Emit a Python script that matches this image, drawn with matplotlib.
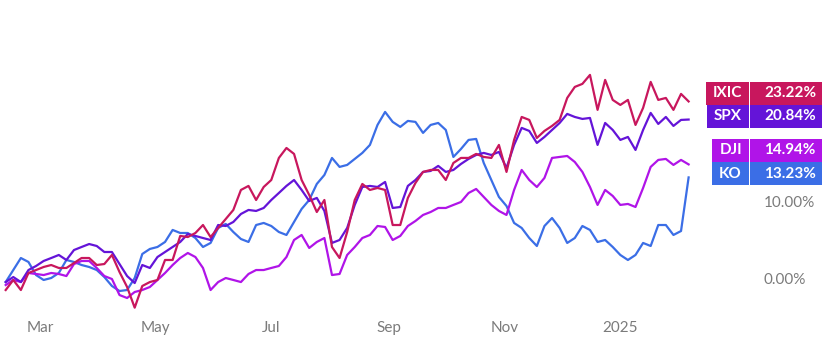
import pandas as pd
import matplotlib
matplotlib.use("Agg")
import matplotlib.pyplot as plt
from matplotlib.patches import Rectangle
from matplotlib import transforms

plt.rcParams['font.family'] = ['Lato', 'DejaVu Sans']

# sampled every 4 days, Feb 2024 -> Feb 2025, % change
dates = pd.date_range("2024-02-12", periods=91, freq="4D")

ixic = [-1.58, -0.26, -1.58, 0.66, 1.05, 1.45, 1.71, 1.32, 1.32, 1.97,
        2.63, 2.63, 1.71, 1.84, 3.03, 0.79, -1.18, -3.9, -1.05, -0.53,
        -0.26, 2.37, 2.37, 5.53, 5.39, 5.92, 6.97, 5.39, 6.58, 7.76,
        8.95, 11.58, 12.11, 10.26, 11.97, 12.89, 15.79, 17.1, 16.32, 12.89,
        10.92, 8.68, 10.26, 4.08, 2.63, 6.05, 10.26, 12.37, 11.58, 11.84,
        11.58, 6.97, 6.97, 10.53, 12.50, 13.95, 14.21, 14.21, 12.89, 15.13,
        15.79, 15.79, 16.32, 15.92, 15.79, 17.50, 13.95, 18.16, 21.18, 20.79,
        18.42, 19.34, 20.0, 20.79, 23.68, 25.13, 25.53, 26.71, 22.11, 26.05,
        23.42, 22.76, 23.42, 20.13, 22.37, 25.79, 23.42, 23.68, 22.11, 24.21, 23.22]

spx = [-0.53, 0.13, -0.53, 1.05, 1.58, 2.24, 2.63, 3.03, 2.37, 3.68,
       4.08, 4.47, 4.21, 3.42, 3.42, 1.84, 0.26, -0.66, 1.71, 1.32,
       2.76, 3.42, 4.08, 4.74, 5.79, 5.53, 5.26, 5.0, 6.97, 6.84,
       7.37, 8.42, 8.95, 8.82, 9.21, 10.26, 11.18, 12.11, 12.89, 11.58,
       10.13, 10.53, 8.82, 4.61, 5.0, 6.58, 9.61, 11.97, 12.11, 11.97,
       12.63, 9.21, 9.34, 12.11, 12.89, 13.95, 14.08, 14.74, 13.95, 14.21,
       15.0, 15.66, 16.18, 16.45, 16.18, 16.58, 14.47, 17.50, 19.74, 19.34,
       17.76, 18.55, 19.47, 20.39, 21.58, 21.18, 20.92, 21.05, 17.50, 20.39,
       19.47, 18.16, 18.55, 16.84, 19.47, 21.71, 20.26, 21.18, 20.0, 20.79, 20.84]

dji = [-0.92, -0.26, -0.53, 0.66, 0.53, 0.39, 0.66, 0.53, 0.26, 1.84,
       2.24, 2.24, 1.32, 0.26, -0.13, -2.24, -2.63, -1.84, -1.58, -1.18,
       -0.26, 0.66, 1.71, 2.63, 3.29, 2.76, 1.32, -1.58, -0.53, 0.0,
       -0.26, -0.53, 0.53, 1.05, 1.05, 1.32, 1.58, 2.76, 5.0, 5.66,
       3.95, 4.74, 5.26, 0.39, 0.53, 3.03, 4.08, 5.26, 5.66, 6.84,
       6.71, 5.0, 5.53, 6.84, 7.50, 8.29, 8.68, 9.21, 9.21, 9.61,
       10.0, 11.18, 11.71, 10.66, 9.61, 8.82, 8.29, 11.58, 14.21, 12.89,
       11.97, 13.16, 15.79, 15.92, 16.05, 15.26, 13.95, 11.97, 9.61, 11.58,
       10.79, 9.61, 9.74, 9.34, 11.84, 14.61, 15.53, 15.66, 14.87, 15.53, 14.94]

ko = [-0.53, 1.05, 2.63, 2.11, 0.39, -0.26, 0.0, 0.66, 2.37, 2.11,
      1.71, 1.45, 1.05, 0.13, -1.05, -1.71, -1.58, 0.0, 3.16, 3.82,
      4.08, 4.74, 6.32, 5.92, 5.92, 5.26, 4.08, 4.61, 6.58, 7.11,
      6.05, 5.13, 4.74, 6.97, 7.24, 6.84, 6.05, 5.66, 7.37, 9.08,
      10.26, 12.37, 13.55, 15.79, 14.61, 14.87, 15.66, 16.45, 17.50, 20.13,
      21.84, 20.53, 19.87, 20.66, 20.53, 19.08, 20.13, 20.39, 19.47, 15.92,
      16.97, 18.16, 18.29, 15.13, 12.89, 10.66, 9.47, 7.24, 6.58, 5.26,
      4.21, 6.84, 7.89, 6.58, 4.61, 5.26, 6.84, 6.32, 4.74, 5.0,
      4.08, 3.03, 2.37, 3.03, 4.61, 4.21, 6.97, 6.97, 5.66, 6.18, 13.23]

names = ["IXIC", "SPX", "DJI", "KO"]
series = [ixic, spx, dji, ko]
colors = ["#c8175d", "#6414d8", "#b014e8", "#3b6ee6"]

tick_dates = ["2024-03-01", "2024-05-01", "2024-07-01", "2024-09-01", "2024-11-01", "2025-01-01"]
tick_labels = ["Mar", "May", "Jul", "Sep", "Nov", "2025"]

W, H = 831, 352
fig = plt.figure(figsize=(W / 100, H / 100), dpi=100)
ax = fig.add_axes([0, 40 / H, 700 / W, 272 / H])

# draw order: KO, DJI, SPX, IXIC on top
for i in [3, 2, 1, 0]:
    ax.plot(dates, series[i], color=colors[i], lw=1.6, solid_joinstyle="round")

start = pd.Timestamp("2024-02-12")
ax.set_xlim(start - pd.Timedelta(days=3), start + pd.Timedelta(days=366))
ax.set_ylim(-4.47, 31.3)

for s in ax.spines.values():
    s.set_visible(False)

ax.set_xticks(pd.to_datetime(tick_dates))
ax.set_xticklabels(tick_labels)
ax.tick_params(axis="x", length=0, pad=6.5, labelsize=11, colors="#7b7b7b")

ax.yaxis.tick_right()
ax.set_yticks([0, 10])
ax.set_yticklabels(["0.00%", "10.00%"])
ax.tick_params(axis="y", length=0, pad=46, labelsize=11, colors="#7b7b7b")

# last-value labels on the right scale
tr = transforms.blended_transform_factory(fig.transFigure, ax.transData)
label_y = [24.3, 21.25, 16.8, 13.7]
box_h = 3.0
fig.canvas.draw()
renderer = fig.canvas.get_renderer()
for name, vals, c, ly in zip(names, series, colors, label_y):
    fig.add_artist(Rectangle((750 / W, ly - box_h / 2), 72 / W, box_h,
                             transform=tr, color=c, lw=0))
    fig.text(764 / W, ly, f"{vals[-1]:.2f}%", transform=tr, ha="left", va="center",
             color="white", fontsize=11, fontweight="bold")
    t = fig.text(742 / W, ly, name, transform=tr, ha="right", va="center",
                 color="white", fontsize=11, fontweight="bold", zorder=5)
    bb = t.get_window_extent(renderer)
    left = bb.x0 - 7
    fig.add_artist(Rectangle((left / W, ly - box_h / 2), (749 - left) / W, box_h,
                             transform=tr, color=c, lw=0))

fig.savefig("out.png", dpi=100)
